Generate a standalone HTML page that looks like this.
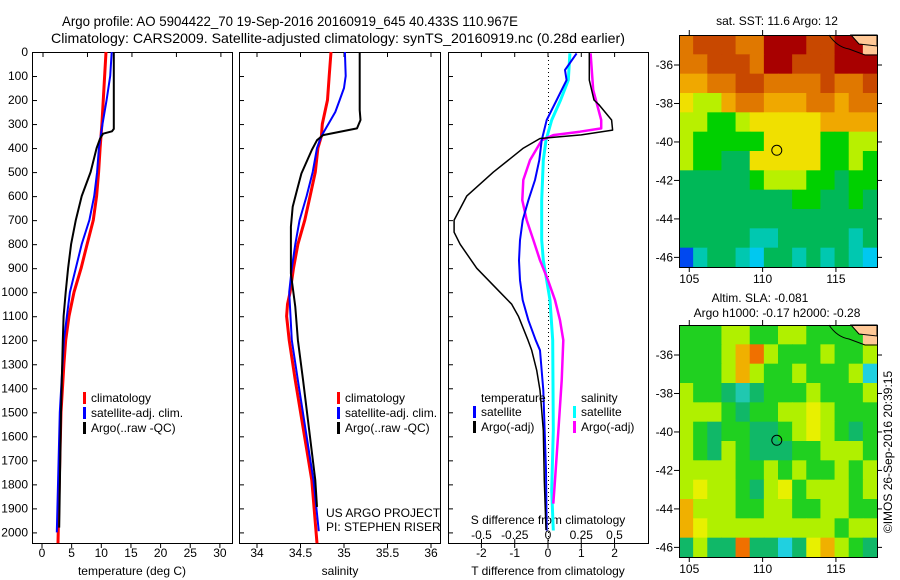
<!DOCTYPE html>
<html><head><meta charset="utf-8">
<style>
html,body{margin:0;padding:0;background:#fff;}
svg{display:block;font-family:"Liberation Sans",sans-serif;}
</style></head>
<body>
<svg id="chart" width="900" height="580" viewBox="0 0 900 580" xmlns="http://www.w3.org/2000/svg">
<text x="62" y="26" font-size="14" textLength="456" lengthAdjust="spacingAndGlyphs">Argo profile: AO 5904422_70 19-Sep-2016 20160919_645 40.433S 110.967E</text>
<text x="51" y="43" font-size="14" textLength="574" lengthAdjust="spacingAndGlyphs">Climatology: CARS2009. Satellite-adjusted climatology: synTS_20160919.nc (0.28d earlier)</text>
<g id="plots"></g>
</svg>
<script>
// ---------- data ----------
const depthTicks = [0,100,200,300,400,500,600,700,800,900,1000,1100,1200,1300,1400,1500,1600,1700,1800,1900,2000];
const tempTicks = [0,5,10,15,20,25,30];
const salTicks = [34,34.5,35,35.5,36];
const tdiffTicks = [-2,-1,0,1,2];
const sdiffTicks = [-0.5,-0.25,0,0.25,0.5];
const sdiffLabels = ["-0.5","-0.25","0","0.25","0.5"];

const tClimDepth = [0,300,400,500,600,700,800,900,1000,1100,1200,1300,1500,1800,2045];
const tClimVal   = [10.8,10.1,9.8,9.55,9.2,8.65,7.6,6.6,5.4,4.55,4.0,3.7,3.2,2.9,2.7];
const tSatDepth = [0,100,200,300,400,500,600,700,800,900,1000,1100,1200,1500,2000];
const tSatVal   = [11.75,11.5,10.9,10.2,9.6,9.3,8.8,8.0,6.7,5.7,4.7,4.2,3.7,3.0,2.5];
const tArgoDepth = [0,320,330,340,360,400,500,600,700,800,900,1000,1100,1200,1500,1980];
const tArgoVal   = [12.1,12.1,11.8,10.3,9.8,9.2,8.2,6.7,5.7,4.9,4.4,4.0,3.65,3.5,3.2,2.9];

const sClimDepth = [0,100,200,250,300,350,400,500,600,700,800,900,1000,1050,1100,1200,1367,1783,2045];
const sClimVal   = [34.85,34.83,34.81,34.78,34.75,34.74,34.70,34.67,34.61,34.55,34.47,34.42,34.38,34.35,34.34,34.37,34.44,34.63,34.69];
const sSatDepth = [0,100,150,200,250,300,350,400,500,600,700,800,900,1000,1200,1367,1783,1995];
const sSatVal   = [35.01,35.02,35.0,34.95,34.90,34.82,34.74,34.69,34.64,34.57,34.49,34.44,34.40,34.37,34.40,34.47,34.65,34.71];
const sArgoDepth = [0,242,283,318,346,367,408,506,575,644,728,922,1061,1200,1367,1783,1894];
const sArgoVal   = [35.18,35.18,35.19,35.15,34.76,34.69,34.63,34.51,34.46,34.41,34.39,34.39,34.44,34.47,34.53,34.67,34.69];

const dtArgoDepth = [0,117,200,221,283,325,345,360,400,500,600,700,750,800,900,1000,1050,1100,1200,1242,1325,1408,1492,1575,1783,1990];
const dtArgoVal   = [1.24,1.24,1.38,1.54,1.91,1.94,1.0,-0.24,-0.74,-1.64,-2.44,-2.82,-2.82,-2.64,-2.14,-1.44,-1.09,-0.89,-0.6,-0.49,-0.34,-0.24,-0.19,-0.14,-0.11,-0.06];
const dtSatDepth = [6,75,117,200,283,367,450,533,617,700,783,867,950,1033,1117,1200,1242,1408,1742,1992];
const dtSatVal   = [0.86,0.51,0.56,0.26,-0.04,-0.19,-0.26,-0.39,-0.59,-0.76,-0.84,-0.87,-0.84,-0.76,-0.59,-0.37,-0.24,-0.14,-0.06,-0.04];
const dsSatDepth = [6,117,200,283,367,450,617,783,867,950,1033,1200,1575,1825,1992];
const dsSatVal   = [0.165,0.153,0.095,0.028,-0.015,-0.035,-0.047,-0.047,-0.035,-0.01,0.015,0.035,0.04,0.028,0.04];
const dsArgoDepth = [6,158,283,318,332,346,367,450,533,617,700,783,867,950,1033,1117,1200,1367,1575,1783,1880];
const dsArgoVal   = [0.32,0.34,0.40,0.40,0.24,0.04,-0.047,-0.135,-0.186,-0.193,-0.16,-0.11,-0.06,0.0,0.053,0.09,0.115,0.103,0.078,0.053,0.04];

const latTicks = [-36,-38,-40,-42,-44,-46];
const lonTicks = [105,110,115];
const sstGrid = [
"ORRROODDDRRDDL","OORRRODDRRRDDD","ooOORROOOOROOR","YyyoOOoooOOoOO",
"yyGGyYYYYYoooo","yGGGGGYYYYGGyy","yGGggYYYYYGGyG","gggggGyyyGGgGG",
"ggggggggGGggGg","gggggggggggggg","gggggTTgggggTg","BTggTCggTgTgTC"];
const slaGrid = [
"GGGyyGGyyGGGGL","GGGyORyGGGyGGy","GGGyOyGGyGGGyC","yGGgTgGGGyGGGy",
"yyyGgGGyyYyGGG","yGgGGggGyYyGgG","yGgyGgggGGyyyG","yyyyGGyGyGGyGy",
"yYyyGgyYGyyyGy","OyyyGGyyGGyyGG","OYyyyyyyyyyGyy","gyggRggCgYOyGg"];
const floatLon = 110.967, floatLat = -40.433;

// ---------- geometry ----------
const NS="http://www.w3.org/2000/svg";
const root=document.getElementById('plots');
function mk(tag,attrs,parent){const e=document.createElementNS(NS,tag);for(const k in attrs)e.setAttribute(k,attrs[k]);(parent||root).appendChild(e);return e;}
const TOP=52,BOT=543;
const yD=d=>TOP+d*0.2402;
const xT=t=>42+t*5.93;
const xS=s=>257+(s-34)*87;
const xDT=t=>548+t*33.3;
const xDS=s=>548+s*133;

function frame(x0,x1,name){
  const r=mk('rect',{x:x0+0.5,y:TOP+0.5,width:x1-x0,height:BOT-TOP,fill:'none',stroke:'#000','stroke-width':1});
  
  
  depthTicks.forEach(d=>{mk('line',{x1:x0,x2:x0+5,y1:yD(d)+0.5,y2:yD(d)+0.5,stroke:'#000'});});
}
function txt(x,y,s,opt){const t=mk('text',Object.assign({x:x,y:y,'font-size':12},opt||{}));t.textContent=s;return t;}
function line(depths,vals,xf,color,w,name){
  const pts=depths.map((d,i)=>xf(vals[i]).toFixed(1)+','+yD(d).toFixed(1)).join(' ');
  const p=mk('polyline',{points:pts,fill:'none',stroke:color,'stroke-width':w,'stroke-linejoin':'round'});
  
  
}
function legend(x,y,items){
  items.forEach((it,i)=>{
    mk('rect',{x:x,y:y+i*15-10,width:3,height:12,fill:it[0]});
    const t=txt(x+8,y+i*15,it[1]);
    
    
  });
}

// depth labels
depthTicks.forEach(d=>{const t=txt(28,yD(d)+4,String(d),{'text-anchor':'end'});});

// Panel 1
frame(32,232,'temperature-panel');
tempTicks.forEach(v=>{mk('line',{x1:xT(v),x2:xT(v),y1:BOT,y2:BOT+5,stroke:'#000'});txt(xT(v),557,String(v),{'text-anchor':'middle'});});
[0,7.5,15,22.5,30].forEach(v=>mk('line',{x1:xT(v)+1,x2:xT(v)+1,y1:TOP,y2:TOP+5,stroke:'#000'}));
const xl1=txt(132,575,'temperature (deg C)',{'text-anchor':'middle'});

line(tClimDepth,tClimVal,xT,'#f00',3,'temp-climatology-line');
line(tSatDepth,tSatVal,xT,'#00f',2,'temp-satellite-line');
line(tArgoDepth,tArgoVal,xT,'#000',2,'temp-argo-line');
legend(83,402,[['#f00','climatology'],['#00f','satellite-adj. clim.'],['#000','Argo(..raw -QC)']]);

// Panel 2
frame(239,440,'salinity-panel');
salTicks.forEach(v=>{mk('line',{x1:xS(v),x2:xS(v),y1:BOT,y2:BOT+5,stroke:'#000'});mk('line',{x1:xS(v),x2:xS(v),y1:TOP,y2:TOP+5,stroke:'#000'});txt(xS(v),557,String(v),{'text-anchor':'middle'});});
txt(340,575,'salinity',{'text-anchor':'middle'});
line(sClimDepth,sClimVal,xS,'#f00',3,'sal-climatology-line');
line(sSatDepth,sSatVal,xS,'#00f',2,'sal-satellite-line');
line(sArgoDepth,sArgoVal,xS,'#000',2,'sal-argo-line');
legend(337,402,[['#f00','climatology'],['#00f','satellite-adj. clim.'],['#000','Argo(..raw -QC)']]);
txt(326,517,'US ARGO PROJECT');
txt(326,531,'PI: STEPHEN RISER');

// Panel 3
frame(448,648,'difference-panel');
mk('line',{x1:548.5,x2:548.5,y1:TOP,y2:BOT,stroke:'#000','stroke-dasharray':'1,3'});
tdiffTicks.forEach(v=>{mk('line',{x1:xDT(v),x2:xDT(v),y1:BOT,y2:BOT+5,stroke:'#000'});mk('line',{x1:xDT(v),x2:xDT(v),y1:TOP,y2:TOP+5,stroke:'#000'});txt(xDT(v),557,String(v).replace('-','-'),{'text-anchor':'middle'});});
sdiffTicks.forEach((v,i)=>{mk('line',{x1:xDS(v),x2:xDS(v),y1:BOT-4,y2:BOT,stroke:'#000'});txt(xDS(v),539,sdiffLabels[i],{'text-anchor':'middle'});});
txt(548,524,'S difference from climatology',{'text-anchor':'middle'});
txt(548,575,'T difference from climatology',{'text-anchor':'middle'});
line(dsSatDepth,dsSatVal,xDS,'#0ff',3,'sdiff-satellite-line');
line(dsArgoDepth,dsArgoVal,xDS,'#f0f',2.5,'sdiff-argo-line');
line(dtSatDepth,dtSatVal,xDT,'#00f',2,'tdiff-satellite-line');
line(dtArgoDepth,dtArgoVal,xDT,'#000',1.5,'tdiff-argo-line');
txt(481,402,'temperature');
legend(473,416,[['#00f','satellite'],['#000','Argo(-adj)']]);
txt(581,402,'salinity');
legend(573,416,[['#0ff','satellite'],['#f0f','Argo(-adj)']]);

// Maps
const MX0=679,MX1=877,LON0=104.3,LON1=117.8,LAT0=-34.44,LAT1=-46.5;
const sstCol={D:'#a80000',R:'#c84800',O:'#e07800',o:'#f0a800',Y:'#f0e000',y:'#b8f000',G:'#00d000',g:'#00b858',T:'#00c8b0',C:'#00c8f0',B:'#0048f0',L:'#ffc896'};
const slaCol={G:'#20d020',g:'#10b868',y:'#b0f000',Y:'#e8f000',O:'#f0b000',R:'#f07000',T:'#20c8b0',C:'#20d0e0',L:'#ffc896'};
function map(top,grid,cols,name,title){
  const bot=top+232;
  const mx=lon=>MX0+(lon-LON0)/(LON1-LON0)*(MX1-MX0);
  const my=lat=>top+(lat-LAT0)/(LAT1-LAT0)*(bot-top);
  const g=mk('g',{});
  
  
  const nr=grid.length,nc=grid[0].length;
  const cw=(MX1-MX0)/nc,ch=(bot-top)/nr;
  grid.forEach((row,r)=>{for(let c=0;c<nc;c++){mk('rect',{x:(MX0+c*cw).toFixed(2),y:(top+r*ch).toFixed(2),width:(cw+0.6).toFixed(2),height:(ch+0.6).toFixed(2),fill:cols[row[c]]},g);}});
  // coastline
  mk('path',{d:`M${MX1-48},${top} Q${MX1-40},${top+12} ${MX1-28},${top+14} L${MX1-12},${top+20} L${MX1},${top+20}`,fill:'none',stroke:'#000','stroke-width':1},g);
  mk('path',{d:`M${MX1-26},${top} L${MX1-18},${top+9} L${MX1},${top+11} L${MX1},${top} Z`,fill:'#ffc896',stroke:'#000','stroke-width':1},g);
  mk('rect',{x:MX0+0.5,y:top+0.5,width:MX1-MX0,height:bot-top,fill:'none',stroke:'#000'},g);
  latTicks.forEach(l=>{const y=my(l);mk('line',{x1:MX0-5,x2:MX0,y1:y,y2:y,stroke:'#000'},g);mk('line',{x1:MX1,x2:MX1+5,y1:y,y2:y,stroke:'#000'},g);txt(673,y+4,String(l),{'text-anchor':'end'});});
  lonTicks.forEach(l=>{const x=mx(l);mk('line',{x1:x,x2:x,y1:top-5,y2:top,stroke:'#000'},g);mk('line',{x1:x,x2:x,y1:bot,y2:bot+5,stroke:'#000'},g);txt(x,bot+16,String(l),{'text-anchor':'middle'});});
  const c=mk('circle',{cx:mx(floatLon),cy:my(floatLat),r:5,fill:'none',stroke:'#000','stroke-width':1},g);
  
  
}
map(35,sstGrid,sstCol,'sst-map');
map(325,slaGrid,slaCol,'sla-map');
txt(777,25,'sat. SST: 11.6 Argo: 12',{'text-anchor':'middle'});
txt(760,302,'Altim. SLA: -0.081',{'text-anchor':'middle'});
txt(777,317,'Argo h1000: -0.17 h2000: -0.28',{'text-anchor':'middle'});
const stamp=txt(0,0,'©IMOS 26-Sep-2016 20:39:15',{'text-anchor':'middle',transform:'translate(892,452) rotate(-90)'});


</script>
</body></html>
